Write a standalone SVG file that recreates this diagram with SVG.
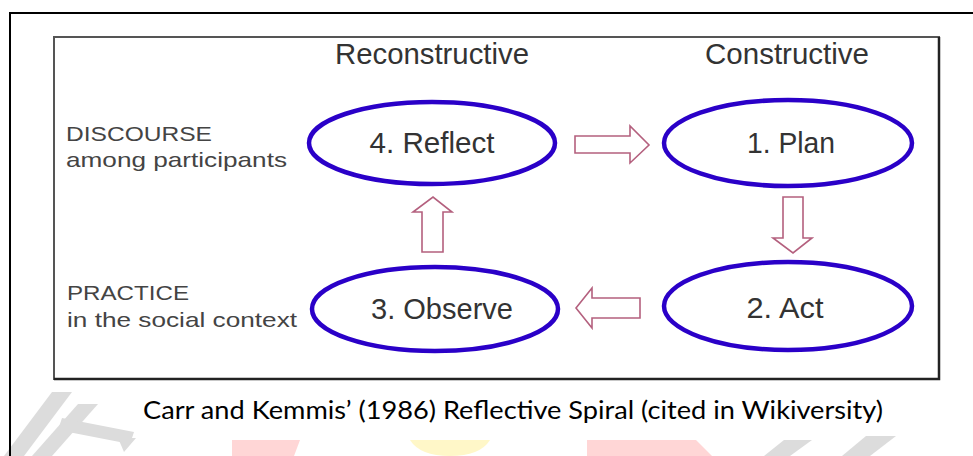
<svg xmlns="http://www.w3.org/2000/svg" width="973" height="456" viewBox="0 0 973 456">
  <style>
    .frame { fill: none; stroke: #000; stroke-width: 2; }
    .panel { fill: #fff; stroke: #555; stroke-width: 2; }
    .shade { fill: none; stroke: #222; stroke-width: 2.5; }
    .head { font-family: "Liberation Sans", Arial, sans-serif; font-size: 30px; fill: #333; text-anchor: middle; }
    .side { font-family: "Liberation Sans", Arial, sans-serif; font-size: 21px; fill: #444; }
    .oval { fill: #fff; stroke: #2a00c8; stroke-width: 4.5; }
    .label { font-family: "Liberation Sans", Arial, sans-serif; font-size: 30px; fill: #333; text-anchor: middle; }
    .arrow { fill: #fff; stroke: #b4607e; stroke-width: 1.6; stroke-linejoin: miter; }
    .caption { font-family: Lato, "Liberation Sans", sans-serif; font-size: 25px; fill: #000; text-anchor: middle; }
    .wm-grey { fill: #dcdcdc; }
    .wm-red { fill: #ffd6d6; }
    .wm-yellow { fill: #fff7c8; }
  </style>

  <rect width="973" height="456" fill="#fff"/>

  <!-- faint watermark shapes behind the caption -->
  <g id="watermark">
    <polygon class="wm-grey" points="52,392 72,392 24,456 4,456"/>
    <polygon class="wm-grey" points="78,404 98,404 52,456 32,456"/>
    <polygon class="wm-grey" points="62,418 134,432 130,444 58,430"/>
    <polygon class="wm-grey" points="118,438 136,438 124,452"/>
    <polygon class="wm-red" points="232,440 300,440 294,456 232,456"/>
    <path class="wm-yellow" d="M410,440 H490 Q480,456 450,456 Q420,456 410,440 Z"/>
    <polygon class="wm-red" points="587,440 696,440 712,456 587,456"/>
    <polygon class="wm-grey" points="784,440 812,440 790,456 764,456"/>
    <polygon class="wm-grey" points="866,436 896,436 870,456 842,456"/>
  </g>

  <!-- outer page frame -->
  <path class="frame" d="M10,456 V13 H973"/>

  <!-- diagram panel with darker lower/right edge -->
  <rect class="panel" x="54" y="37" width="885" height="342"/>
  <path class="shade" d="M54,379 H939 V37"/>

  <!-- column headings -->
  <text class="head" x="432" y="64" textLength="194" lengthAdjust="spacingAndGlyphs">Reconstructive</text>
  <text class="head" x="787" y="64" textLength="164" lengthAdjust="spacingAndGlyphs">Constructive</text>

  <!-- row headings -->
  <g id="row-discourse">
    <text class="side" x="66" y="141" textLength="146" lengthAdjust="spacingAndGlyphs">DISCOURSE</text>
    <text class="side" x="66" y="167" textLength="221" lengthAdjust="spacingAndGlyphs">among participants</text>
  </g>
  <g id="row-practice">
    <text class="side" x="67" y="300" textLength="122" lengthAdjust="spacingAndGlyphs">PRACTICE</text>
    <text class="side" x="67" y="327" textLength="230" lengthAdjust="spacingAndGlyphs">in the social context</text>
  </g>

  <!-- connectors: hollow block arrows -->
  <g id="connectors">
    <!-- Reflect -> Plan -->
    <polygon class="arrow" points="575,136 630,136 630,126 649,145 630,163 630,153 575,153"/>
    <!-- Plan -> Act -->
    <polygon class="arrow" points="783,197 803,197 803,238 812,238 793,253 773,238 783,238"/>
    <!-- Act -> Observe -->
    <polygon class="arrow" points="640,298 592,298 592,288 576,308 592,328 592,318 640,318"/>
    <!-- Observe -> Reflect -->
    <polygon class="arrow" points="422,252 422,212 413,212 433,197 452,212 443,212 443,252"/>
  </g>

  <!-- cycle stages -->
  <g id="reflect">
    <ellipse class="oval" cx="432" cy="143" rx="123" ry="41"/>
    <text class="label" x="432" y="153" textLength="125" lengthAdjust="spacingAndGlyphs">4. Reflect</text>
  </g>
  <g id="plan">
    <ellipse class="oval" cx="788" cy="143" rx="124" ry="43"/>
    <text class="label" x="791" y="153" textLength="88" lengthAdjust="spacingAndGlyphs">1. Plan</text>
  </g>
  <g id="observe">
    <ellipse class="oval" cx="435" cy="309" rx="123" ry="42"/>
    <text class="label" x="442" y="319" textLength="142" lengthAdjust="spacingAndGlyphs">3. Observe</text>
  </g>
  <g id="act">
    <ellipse class="oval" cx="788" cy="306" rx="124" ry="44"/>
    <text class="label" x="785" y="318" textLength="77" lengthAdjust="spacingAndGlyphs">2. Act</text>
  </g>

  <!-- caption -->
  <text class="caption" x="513" y="419" textLength="740" lengthAdjust="spacingAndGlyphs">Carr and Kemmis’ (1986) Reflective Spiral (cited in Wikiversity)</text>
</svg>
